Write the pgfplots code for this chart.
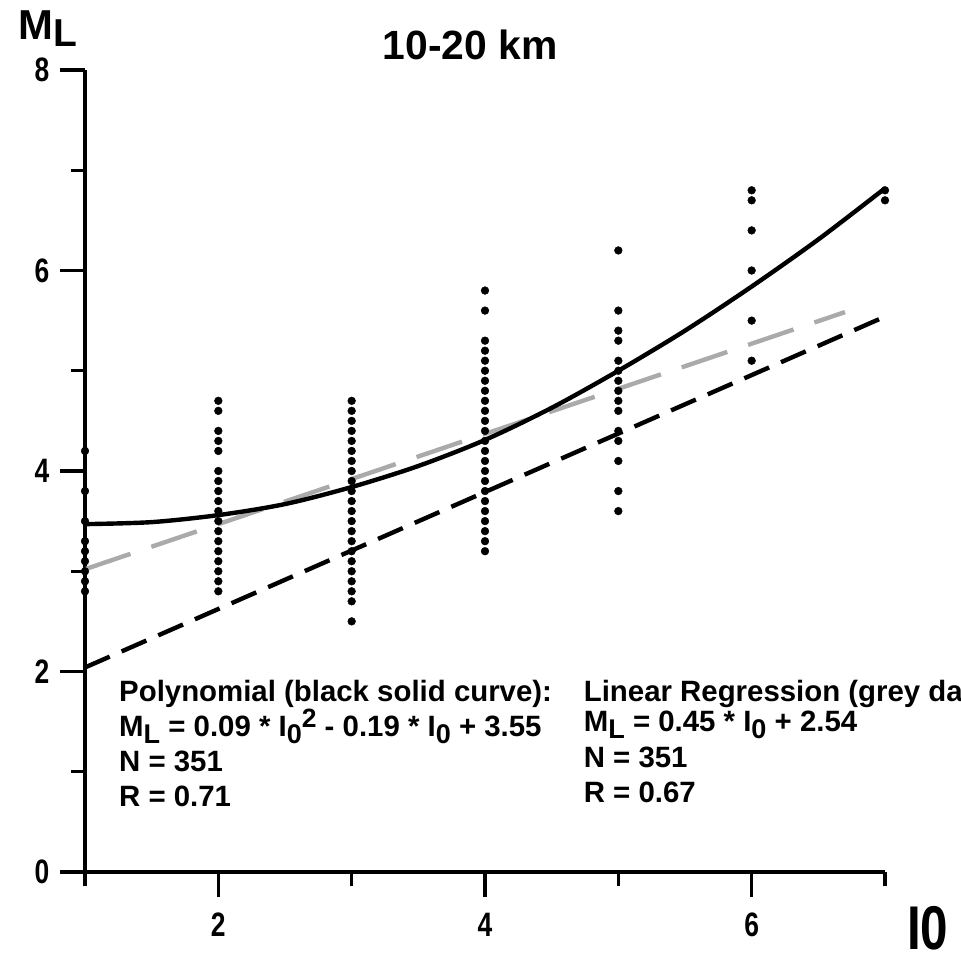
\documentclass[border=0pt]{standalone}
\usepackage{fontspec}
\setmainfont{Liberation Sans}
\usepackage{pgfplots}
\pgfplotsset{compat=1.18}
\definecolor{greyline}{RGB}{170,170,170}
\newcommand{\lo}[1]{\raisebox{-0.22em}{\scalebox{0.92}{#1}}}
\newcommand{\hi}[1]{\raisebox{0.32em}{\scalebox{0.9}{#1}}}
\begin{document}
\begin{tikzpicture}
\begin{axis}[
  scale only axis, width=800bp, height=802bp,
  xmin=1, xmax=7, ymin=0, ymax=8,
  axis x line*=bottom, axis y line*=left,
  axis line style={line width=3.4bp, -},
  clip=false,
  xtick={2,4,6}, ytick={0,2,4,6,8},
  minor xtick={1,3,5,7}, minor ytick={1,3,5,7},
  tick align=outside,
  major tick length=25bp, minor tick length=14bp,
  every tick/.style={black, line width=3.4bp},
  /pgf/number format/assume math mode=true,
  ticklabel style={font=\fontsize{34}{34}\selectfont\bfseries},
  xticklabel={\scalebox{0.78}[1]{\pgfmathprintnumber{\tick}}},
  yticklabel={\scalebox{0.78}[1]{\pgfmathprintnumber{\tick}}},
  xticklabel style={anchor=center, yshift=-28bp},
  yticklabel style={anchor=center, xshift=-18bp},
]
\addplot[only marks, mark=*, mark size=3.9bp, black] coordinates {
(1,4.2)(1,3.8)(1,3.5)(1,3.3)(1,3.2)(1,3.1)(1,3.0)(1,2.9)(1,2.8)
(2,4.7)(2,4.6)(2,4.4)(2,4.3)(2,4.2)(2,4.0)(2,3.9)(2,3.8)(2,3.7)(2,3.6)(2,3.5)(2,3.4)(2,3.3)(2,3.2)(2,3.1)(2,3.0)(2,2.9)(2,2.8)
(3,4.7)(3,4.6)(3,4.5)(3,4.4)(3,4.3)(3,4.2)(3,4.1)(3,4.0)(3,3.9)(3,3.8)(3,3.7)(3,3.6)(3,3.5)(3,3.4)(3,3.3)(3,3.2)(3,3.1)(3,3.0)(3,2.9)(3,2.8)(3,2.7)(3,2.5)
(4,5.8)(4,5.6)(4,5.3)(4,5.2)(4,5.1)(4,5.0)(4,4.9)(4,4.8)(4,4.7)(4,4.6)(4,4.5)(4,4.4)(4,4.3)(4,4.2)(4,4.1)(4,4.0)(4,3.9)(4,3.8)(4,3.7)(4,3.6)(4,3.5)(4,3.4)(4,3.3)(4,3.2)
(5,6.2)(5,5.6)(5,5.4)(5,5.3)(5,5.1)(5,5.0)(5,4.9)(5,4.8)(5,4.7)(5,4.6)(5,4.4)(5,4.3)(5,4.1)(5,3.8)(5,3.6)
(6,6.8)(6,6.7)(6,6.4)(6,6.0)(6,5.5)(6,5.1)
(7,6.8)(7,6.7)
};
\addplot[greyline, line width=4.4bp, dash pattern=on 48bp off 22bp] coordinates {(1,3.02)(6.7,5.585)};
\addplot[black, line width=4.4bp, dash pattern=on 27bp off 13bp] coordinates {(1,2.04)(7,5.54)};
\addplot[black, line width=4.4bp, smooth] coordinates {
(1,3.47)(1.5,3.49)(2,3.56)(2.5,3.67)(3,3.84)(3.5,4.05)(4,4.31)(4.5,4.63)(5,5.0)(5.5,5.4)(6,5.84)(6.5,6.31)(7,6.82)};
\node[anchor=base, font=\fontsize{41}{41}\selectfont\bfseries] at (axis cs:3.89,8.10) {10-20 km};
\node[anchor=base west, inner sep=0, font=\fontsize{42}{42}\selectfont\bfseries] at (axis cs:0.4975,8.30) {M\raisebox{-7bp}{\scalebox{0.93}{L}}};
\node[anchor=base west, inner sep=0, font=\fontsize{62}{62}\selectfont\bfseries] at (axis cs:7.165,-0.778) {\scalebox{0.8}[1]{I0}};
\begin{scope}[every node/.style={anchor=base west, inner sep=0, font=\fontsize{29.5}{29.5}\selectfont\bfseries}]
\node at (axis cs:1.255,1.70) {Polynomial (black solid curve):};
\node at (axis cs:1.255,1.35) {M\lo{L} = 0.09 * I\lo{0}\hi{2} - 0.19 * I\lo{0} + 3.55};
\node at (axis cs:1.255,1.00) {N = 351};
\node at (axis cs:1.255,0.65) {R = 0.71};
\node at (axis cs:4.74,1.70) {Linear Regression (grey dashed line):};
\node at (axis cs:4.74,1.40) {M\lo{L} = 0.45 * I\lo{0} + 2.54};
\node at (axis cs:4.74,1.04) {N = 351};
\node at (axis cs:4.74,0.69) {R = 0.67};
\end{scope}
\coordinate (O) at (axis cs:1,0);
\end{axis}
\pgfresetboundingbox
\path[use as bounding box] ([shift={(-85bp,-86bp)}]O) rectangle ([shift={(876bp,872bp)}]O);
\end{tikzpicture}
\end{document}
